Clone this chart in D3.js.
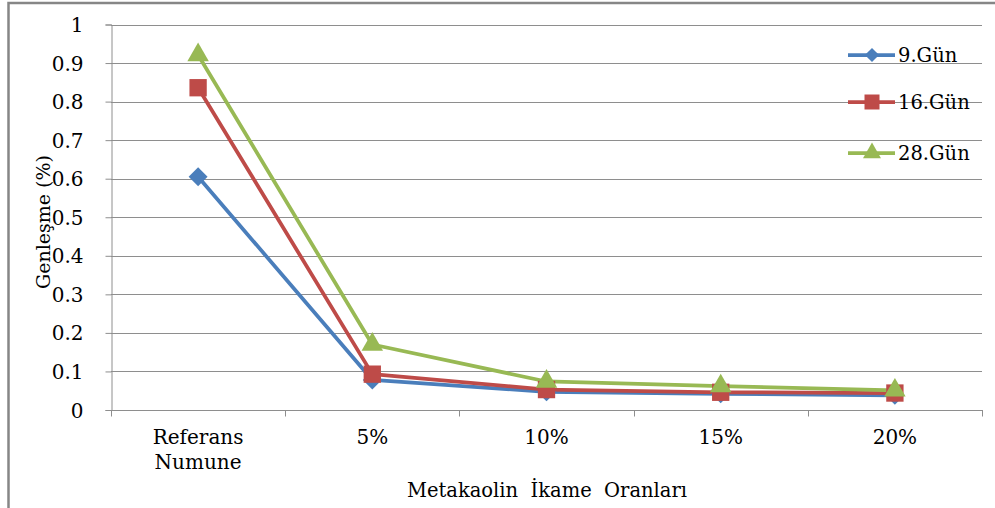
<!DOCTYPE html>
<html>
<head>
<meta charset="utf-8">
<script src="https://cdn.jsdelivr.net/npm/d3@7"></script>
<style>
  html, body { margin: 0; padding: 0; background: #fff; }
  svg { display: block; }
</style>
</head>
<body>
<svg id="chart" width="995" height="508"></svg>
<script>
// Expansion (%) by metakaolin replacement ratio, for three curing ages
const categories = ["Referans Numune", "5%", "10%", "15%", "20%"];
const day9  = [0.605, 0.078, 0.047, 0.042, 0.038];
const day16 = [0.836, 0.093, 0.053, 0.046, 0.044];
const day28 = [0.921, 0.170, 0.074, 0.062, 0.051];
const seriesNames = ["9.Gün", "16.Gün", "28.Gün"];
const yTicks = [0, 0.1, 0.2, 0.3, 0.4, 0.5, 0.6, 0.7, 0.8, 0.9, 1];
const yTickLabels = ["0", "0.1", "0.2", "0.3", "0.4", "0.5", "0.6", "0.7", "0.8", "0.9", "1"];

const FONT = "'DejaVu Serif', serif";
const colors = ["#4a7ebb", "#be4b48", "#98b954"];
// diamond = square turned 45 degrees
const symbols = [d3.symbolSquare, d3.symbolSquare, d3.symbolTriangle];
const symbolSizes = [180, 300, 200];
const legendSizes = [100, 225, 140];
const symbolRot = [45, 0, 0];

const series = [day9, day16, day28].map((values, i) => ({
  name: seriesNames[i], values, color: colors[i], symbol: symbols[i],
  size: symbolSizes[i], legendSize: legendSizes[i], rot: symbolRot[i]
}));

const svg = d3.select("#chart").style("font-family", FONT);
const plotLeft = 111, plotRight = 982, plotTop = 24.5, plotBottom = 410;

const x = d3.scaleBand().domain(categories).range([plotLeft, plotRight]).padding(0);
const y = d3.scaleLinear().domain([0, 1]).range([plotBottom, plotTop]);

// outer chart frame
svg.append("rect")
  .attr("x", 8.5).attr("y", 3).attr("width", 1000).attr("height", 520)
  .attr("fill", "none").attr("stroke", "#868686").attr("stroke-width", 2.5);

// horizontal gridlines
svg.append("g").selectAll("line")
  .data(yTicks.slice(1))
  .join("line")
  .attr("x1", plotLeft).attr("x2", plotRight)
  .attr("y1", d => Math.round(y(d)) + 0.5).attr("y2", d => Math.round(y(d)) + 0.5)
  .attr("stroke", "#8e8e8e").attr("stroke-width", 1);

// y axis
const yAxis = d3.axisLeft(y)
  .tickValues(yTicks)
  .tickFormat((d, i) => yTickLabels[i])
  .tickSize(6)
  .tickPadding(22);
const gy = svg.append("g").attr("transform", `translate(${plotLeft + 0.5},0)`).call(yAxis);
gy.attr("font-family", null).style("font-family", FONT);
gy.select(".domain").attr("stroke", "#8e8e8e");
gy.selectAll(".tick line").attr("stroke", "#8e8e8e");
gy.selectAll(".tick text")
  .style("font-family", FONT)
  .attr("font-size", 20)
  .attr("fill", "#000")
  .attr("dy", "0.35em");

// x axis: ticks on category boundaries
const boundaries = categories.map(c => x(c)).concat([x(categories[categories.length - 1]) + x.bandwidth()]);
const gx = svg.append("g");
gx.append("line")
  .attr("x1", plotLeft).attr("x2", plotRight)
  .attr("y1", Math.round(plotBottom) + 0.5).attr("y2", Math.round(plotBottom) + 0.5)
  .attr("stroke", "#8e8e8e");
gx.selectAll("line.tk").data(boundaries).join("line")
  .attr("class", "tk")
  .attr("x1", d => Math.round(d) + 0.5).attr("x2", d => Math.round(d) + 0.5)
  .attr("y1", plotBottom).attr("y2", plotBottom + 6.5)
  .attr("stroke", "#8e8e8e");

// category labels (first one wraps over two lines)
gx.selectAll("text.cat").data(categories).join("text")
  .attr("class", "cat")
  .style("font-family", FONT)
  .attr("x", d => x(d) + x.bandwidth() / 2)
  .attr("y", 444)
  .attr("text-anchor", "middle")
  .attr("font-size", 20)
  .each(function (d) {
    const words = d.split(" ");
    const t = d3.select(this);
    words.forEach((w, i) => {
      t.append("tspan")
        .attr("x", x(d) + x.bandwidth() / 2)
        .attr("dy", i === 0 ? 0 : 25)
        .text(w);
    });
  });

// axis titles
svg.append("text")
  .style("font-family", FONT)
  .attr("x", 547).attr("y", 497)
  .attr("text-anchor", "middle")
  .attr("font-size", 19.5)
  .style("white-space", "pre")
  .text("Metakaolin  İkame  Oranları");

svg.append("text")
  .style("font-family", FONT)
  .attr("transform", "translate(50,222) rotate(-90)")
  .attr("text-anchor", "middle")
  .attr("font-size", 19)
  .text("Genleşme (%)");

// series lines
const line = d3.line()
  .x((d, i) => x(categories[i]) + x.bandwidth() / 2)
  .y(d => y(d));

const gSeries = svg.append("g");
series.forEach(s => {
  gSeries.append("path")
    .datum(s.values)
    .attr("d", line)
    .attr("fill", "none")
    .attr("stroke", s.color)
    .attr("stroke-width", 3.75)
    .attr("stroke-linejoin", "round");
});
series.forEach(s => {
  gSeries.append("g").selectAll("path")
    .data(s.values)
    .join("path")
    .attr("transform", (d, i) => `translate(${x(categories[i]) + x.bandwidth() / 2},${y(d)}) rotate(${s.rot})`)
    .attr("d", d3.symbol().type(s.symbol).size(s.size))
    .attr("fill", s.color);
});

// legend
const legendY = [55, 102, 153];
const legend = svg.append("g");
series.forEach((s, i) => {
  const g = legend.append("g").attr("transform", `translate(848,${legendY[i]})`);
  g.append("line").attr("x1", 0).attr("x2", 47).attr("y1", 0).attr("y2", 0)
    .attr("stroke", s.color).attr("stroke-width", 3.75);
  g.append("path").attr("transform", `translate(24,0) rotate(${s.rot})`)
    .attr("d", d3.symbol().type(s.symbol).size(s.legendSize))
    .attr("fill", s.color);
  g.append("text").attr("x", 50).attr("y", 7)
    .style("font-family", FONT)
    .attr("font-size", 19.5)
    .text(s.name);
});
</script>
</body>
</html>
